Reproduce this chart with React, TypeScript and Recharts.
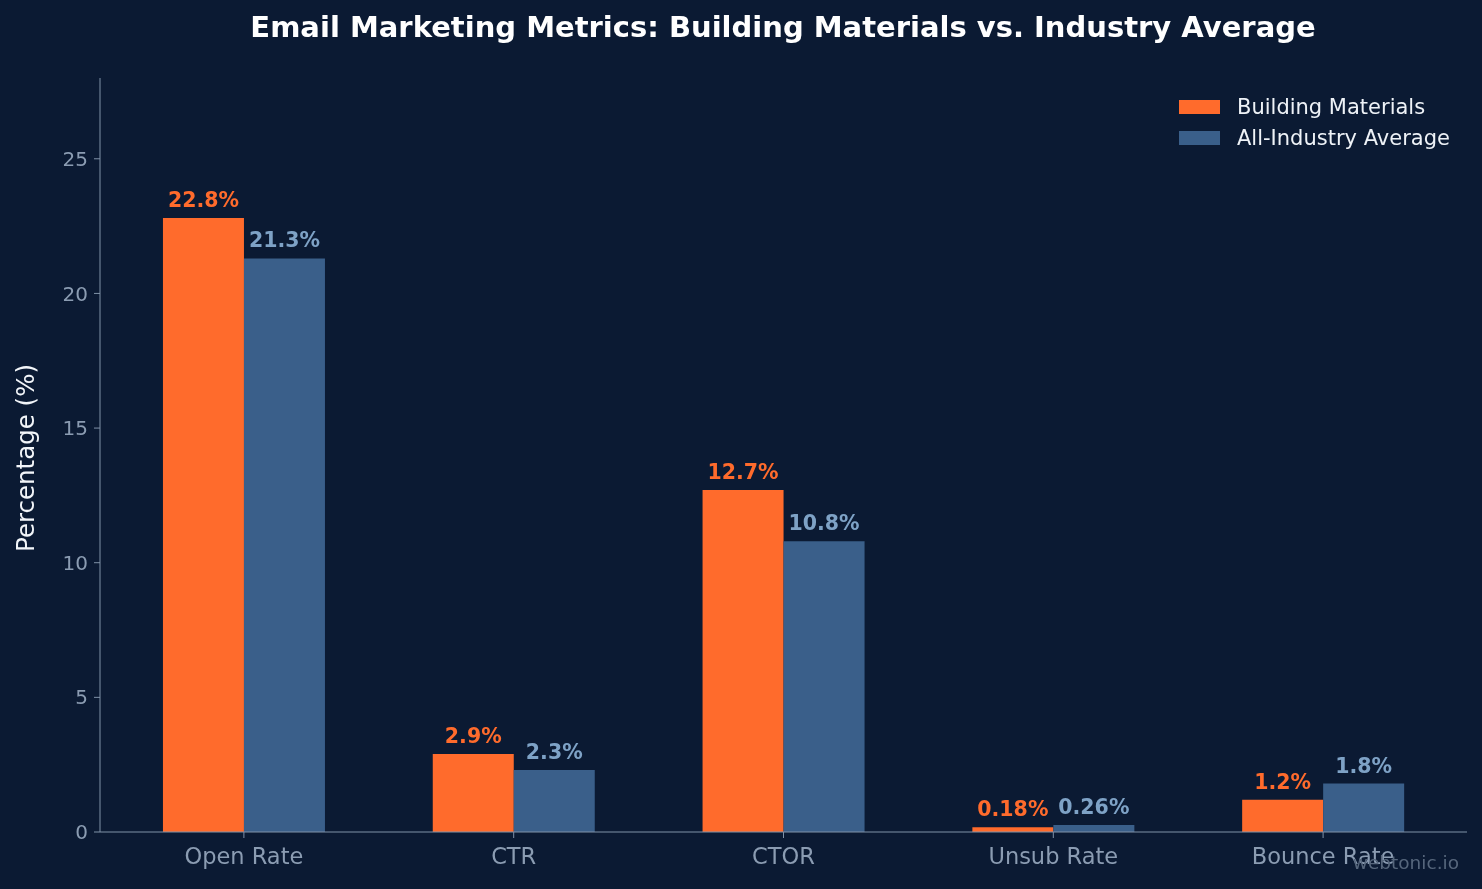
import React from 'react';
import { BarChart, Bar, XAxis, YAxis, LabelList } from 'recharts';

const metrics = ['Open Rate', 'CTR', 'CTOR', 'Unsub Rate', 'Bounce Rate'];
const buildingMaterials = [22.8, 2.9, 12.7, 0.18, 1.2];
const industryAverage = [21.3, 2.3, 10.8, 0.26, 1.8];
const yTicks = [0, 5, 10, 15, 20, 25];

const data = metrics.map((metric, i) => ({
  metric,
  building: buildingMaterials[i],
  industry: industryAverage[i],
}));

const BG = '#0b1a33';
const ORANGE = '#ff6b2c';
const BLUE = '#3a5f8a';
const BLUE_LABEL = '#7ea2c6';
const AXIS = '#8092a8';
const FONT = '"DejaVu Sans", sans-serif';

const legendItems = [
  { name: 'Building Materials', color: ORANGE },
  { name: 'All-Industry Average', color: BLUE },
];

const App: React.FC = () => {
  return (
    <div style={{ position: 'fixed', left: 0, top: 0, width: 1482, height: 889, background: BG, fontFamily: FONT }}>
      <div
        style={{
          position: 'absolute',
          top: 10,
          left: 0,
          width: 1566,
          textAlign: 'center',
          fontSize: 29,
          fontWeight: 'bold',
          color: '#ffffff',
        }}
      >
        Email Marketing Metrics: Building Materials vs. Industry Average
      </div>
      <BarChart
        width={1482}
        height={889}
        data={data}
        margin={{ top: 78, right: 15, bottom: 27, left: 0 }}
        barCategoryGap="20%"
        barGap={0}
      >
        <XAxis
          dataKey="metric"
          height={30}
          stroke={AXIS}
          tickLine={{ stroke: AXIS }}
          tickSize={6}
          padding={{ left: 9, right: 9 }}
          tick={{ fill: '#8b9cb2', fontSize: 22.5, fontFamily: FONT }}
          tickMargin={10}
        />
        <YAxis
          width={100}
          domain={[0, 28]}
          ticks={yTicks}
          stroke={AXIS}
          tickSize={6}
          tickMargin={6}
          tick={{ fill: '#8b9cb2', fontSize: 20, fontFamily: FONT }}
          label={{
            value: 'Percentage (%)',
            angle: -90,
            position: 'insideLeft',
            dx: 20,
            dy: 97,
            fill: '#f2f5f9',
            fontSize: 24.5,
            fontFamily: FONT,
          }}
        />
        <Bar dataKey="building" name="Building Materials" fill={ORANGE} isAnimationActive={false}>
          <LabelList
            dataKey="building"
            position="top"
            offset={11}
            formatter={(v: any) => `${v}%`}
            fill={ORANGE}
            fontSize={20.5}
            fontWeight="bold"
            fontFamily={FONT}
          />
        </Bar>
        <Bar dataKey="industry" name="All-Industry Average" fill={BLUE} isAnimationActive={false}>
          <LabelList
            dataKey="industry"
            position="top"
            offset={11}
            formatter={(v: any) => `${v}%`}
            fill={BLUE_LABEL}
            fontSize={20.5}
            fontWeight="bold"
            fontFamily={FONT}
          />
        </Bar>
      </BarChart>
      <div style={{ position: 'absolute', left: 1179, top: 91, fontSize: 21, color: '#eef2f7' }}>
        {legendItems.map((item) => (
          <div key={item.name} style={{ display: 'flex', alignItems: 'center', height: 31 }}>
            <span style={{ width: 41, height: 14, background: item.color, marginRight: 17 }} />
            <span>{item.name}</span>
          </div>
        ))}
      </div>
      <div
        style={{
          position: 'absolute',
          right: 23,
          top: 852,
          fontSize: 18.5,
          color: '#56667c',
        }}
      >
        webtonic.io
      </div>
    </div>
  );
};

export default App;
